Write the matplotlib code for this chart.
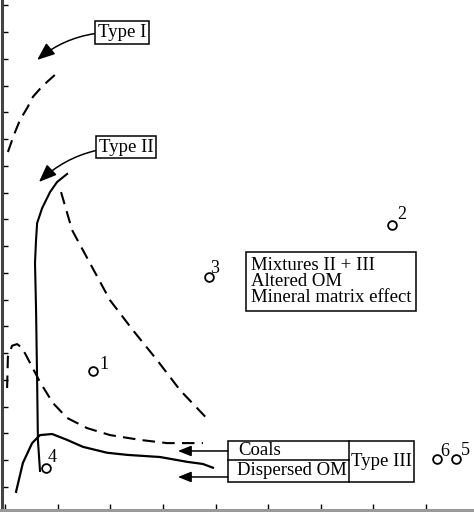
import numpy as np
import matplotlib
matplotlib.use('Agg')
import matplotlib.pyplot as plt
from matplotlib.patches import Rectangle
from matplotlib.ticker import MultipleLocator

plt.rcParams['font.family'] = ['Liberation Serif', 'DejaVu Serif']

# curves
type1_x = [1.1, 3.4, 5.7, 8.4, 10.6, 13.3, 16.0, 20.1]
type1_y = [676, 708, 736, 758, 779, 794, 807, 825]

type2_x = [23.6, 19.8, 17.1, 14.1, 12.2, 11.8, 11.4, 11.8, 12.2, 12.5, 13.3]
type2_y = [635, 620, 601, 571, 543, 512, 469, 381, 250, 138, 80]

type3_x = [4.2, 6.8, 10.3, 13.3, 17.9, 23.6, 29.6, 38.8, 46.4, 58.9, 69.2, 75.2, 79.0]
type3_y = [41, 95, 132, 147, 149, 138, 125, 114, 110, 106, 97, 93, 86]

coal_x = [0.8, 1.1, 2.7, 4.6, 6.5, 9.5, 13.3, 18.2, 23.6, 31.2, 39.9, 51.3, 61.6, 75.2]
coal_y = [235, 293, 314, 317, 310, 282, 246, 207, 179, 160, 147, 138, 132, 132]

mix_x = [21.3, 25.5, 31.2, 39.9, 48.6, 57.8, 66.5, 77.9]
mix_y = [601, 530, 478, 399, 343, 287, 231, 172]

# samples
samp_id = ['1', '2', '3', '4', '5', '6']
samp_x = [33.4, 147.1, 77.5, 15.6, 171.4, 164.2]
samp_y = [267, 540, 442, 86, 102, 102]
lab_off = [(11, 6), (10, 10), (6, 9), (6, 10), (9, 9), (8, 8)]

fig = plt.figure(figsize=(4.74, 5.12), dpi=100)
ax = fig.add_axes([1.5 / 474, 2 / 512, 472.5 / 474, 510 / 512])
ax.set_xlim(-1.33, 178.2)
ax.set_ylim(7.0, 960)

dash = (6, 3.5)
ax.plot(type1_x, type1_y, color='black', lw=1.5, dashes=dash)
ax.plot(type2_x, type2_y, color='black', lw=1.5)
ax.plot(type3_x, type3_y, color='black', lw=1.6)
ax.plot(coal_x, coal_y, color='black', lw=1.5, dashes=dash)
ax.plot(mix_x, mix_y, color='black', lw=1.5, dashes=dash)

ax.plot(samp_x, samp_y, 'o', mfc='white', mec='black', ms=6.3, mew=1.3, zorder=5)
for s, x, y, off in zip(samp_id, samp_x, samp_y, lab_off):
    ax.annotate(s, (x, y), xytext=off, textcoords='offset pixels',
                ha='center', va='center', fontsize=13)

fs = 13.5
box = dict(boxstyle='square,pad=0.15', fc='white', ec='black', lw=1.1)
arr = dict(arrowstyle='-|>,head_length=0.8,head_width=0.32', color='black',
           lw=1.1, shrinkA=0, shrinkB=0)

ax.annotate('Type I', xy=(12.2, 848), xytext=(44.5, 899), ha='center', va='center',
            fontsize=fs, bbox=box,
            arrowprops=dict(arr, connectionstyle='arc3,rad=0.2'))
ax.annotate('Type II', xy=(12.9, 620), xytext=(46.0, 685), ha='center', va='center',
            fontsize=fs, bbox=box,
            arrowprops=dict(arr, connectionstyle='arc3,rad=0.2'))

ax.text(93.5, 434, 'Mixtures II + III\nAltered OM\nMineral matrix effect',
        ha='left', va='center', fontsize=fs, linespacing=0.95,
        bbox=dict(boxstyle='square,pad=0.25', fc='white', ec='black', lw=1.1))

# Type III table
ax.add_patch(Rectangle((84.7, 59.3), 155.4 - 84.7, 136.0 - 59.3, fill=False, ec='black', lw=1.1))
ax.plot([130.7, 130.7], [59.3, 136.0], color='black', lw=1.1)
ax.plot([84.7, 130.7], [100.5, 100.5], color='black', lw=1.1)
ax.text(88.6, 118, 'Coals', ha='left', va='center', fontsize=fs)
ax.text(88.0, 80, 'Dispersed OM', ha='left', va='center', fontsize=fs)
ax.text(143.1, 98, 'Type III', ha='center', va='center', fontsize=fs)
ax.annotate('', xy=(65.7, 117.3), xytext=(84.7, 117.3), arrowprops=arr)
ax.annotate('', xy=(65.7, 68.7), xytext=(84.7, 68.7), arrowprops=arr)

ax.xaxis.set_major_locator(MultipleLocator(20))
ax.yaxis.set_major_locator(MultipleLocator(50))
ax.tick_params(direction='in', length=4.5, width=1, labelbottom=False, labelleft=False)
ax.spines['top'].set_visible(False)
ax.spines['right'].set_visible(False)
ax.spines['left'].set_color('#444444')
ax.spines['left'].set_linewidth(2.2)
ax.spines['bottom'].set_color('#999999')
ax.spines['bottom'].set_linewidth(2.2)

fig.savefig('out.png', dpi=100)
